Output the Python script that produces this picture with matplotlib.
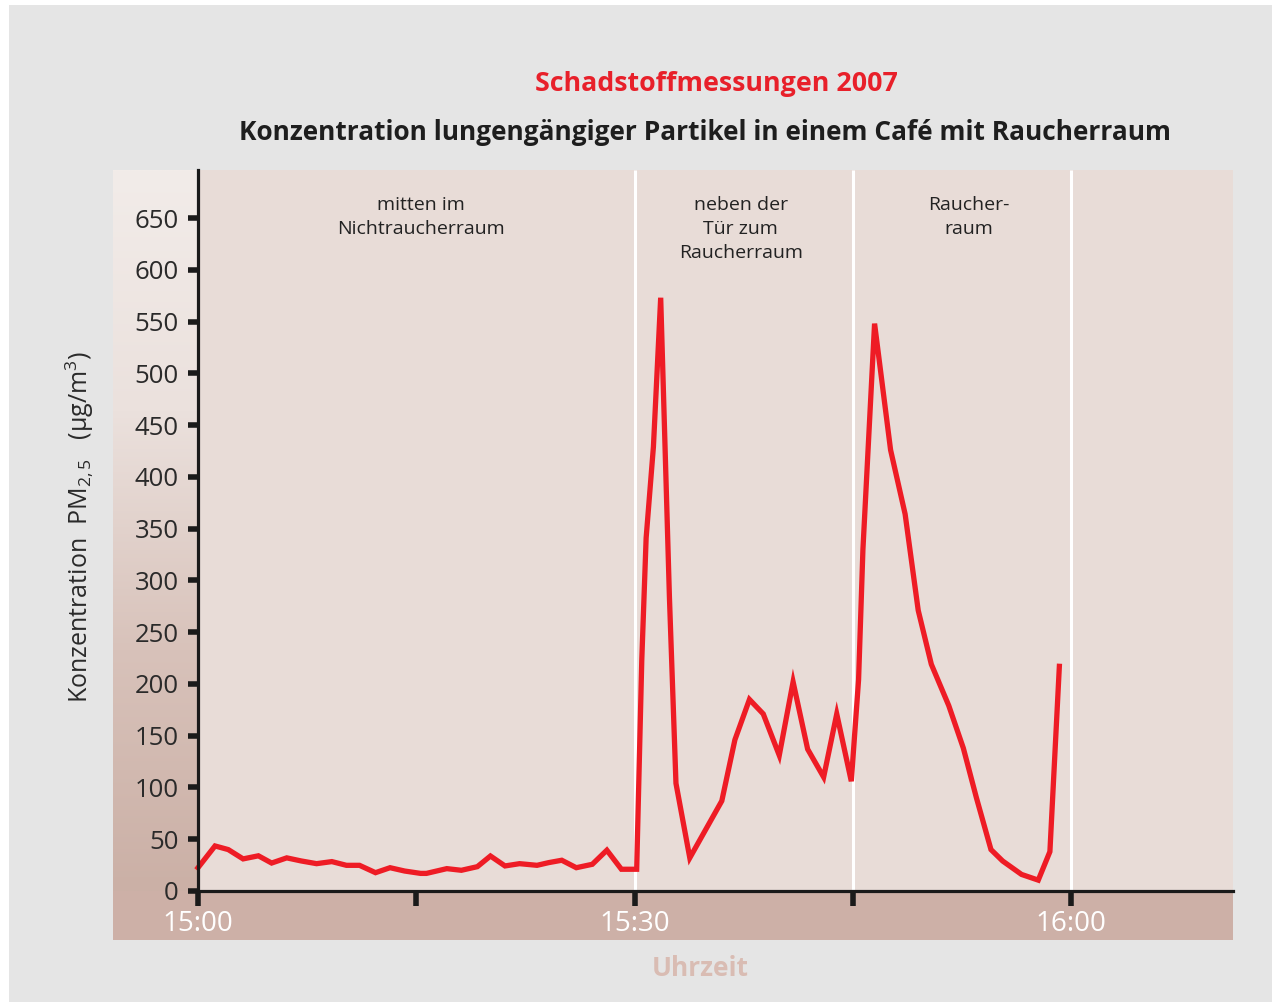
import numpy as np
import matplotlib
matplotlib.use("Agg")
import matplotlib.pyplot as plt
from matplotlib.colors import LinearSegmentedColormap
from matplotlib.patches import Rectangle

# ---------------- data ----------------
minutes = [0, 1.17, 2.08, 3.1, 4.15, 5.06, 6.1, 7.1, 8.15, 9.2, 10.2, 11.1, 12.2,
           13.2, 14.2, 15.3, 15.7, 17.1, 18.1, 19.2, 20.1, 21.1, 22.1, 23.3, 24.1,
           25.0, 26.0, 27.1, 28.1, 29.1, 30.15, 30.5, 30.8, 31.3, 31.8, 32.4, 32.85,
           33.8, 36.0, 36.9, 37.9, 38.85, 39.95, 40.9, 41.9, 43.0, 43.9, 44.9, 45.4,
           45.7, 46.5, 47.6, 48.6, 49.5, 50.4, 51.6, 52.6, 53.5, 54.5, 55.3, 56.6,
           57.75, 58.55, 59.2]
pm25 = [22.5, 43.5, 40, 31, 34, 27, 32, 29, 26.4, 28.4, 24.8, 24.8, 17.7, 22.5,
        19.3, 17, 17, 21.6, 20, 23.5, 33.8, 24.2, 26.4, 24.8, 27.4, 29.7, 22.5, 25.8,
        39.4, 21, 21, 223, 341, 429, 573, 284, 104, 32, 87, 146, 185, 171, 131, 202,
        137, 110, 171, 106, 204, 330, 548, 426, 364, 271, 219, 179, 138, 90, 40, 29,
        16, 10.5, 38, 217]

xtick_minutes = [0, 30, 60]
xtick_labels = ["15:00", "15:30", "16:00"]
xminor_minutes = [15, 45]
yticks = list(range(0, 651, 50))
section_bounds = [30, 45, 60]
section_labels = ["mitten im\nNichtraucherraum", "neben der\nTür zum\nRaucherraum", "Raucher-\nraum"]
section_centers = [15.3, 37.3, 53.0]

title = "Schadstoffmessungen 2007"
subtitle = "Konzentration lungengängiger Partikel in einem Café mit Raucherraum"
ylabel = r"Konzentration  PM$_{\mathrm{2,5}}$   (µg/m$^{\mathrm{3}}$)"
xlabel = "Uhrzeit"

# ---------------- style ----------------
FONT = "Open Sans"
plt.rcParams["font.family"] = [FONT, "DejaVu Sans"]
plt.rcParams["mathtext.fontset"] = "custom"
plt.rcParams["mathtext.rm"] = FONT
plt.rcParams["mathtext.it"] = FONT + ":italic"
plt.rcParams["mathtext.bf"] = FONT + ":bold"

W, H = 1272, 1002
fig = plt.figure(figsize=(W / 100, H / 100), dpi=100)
fig.patch.set_facecolor("white")
# gray backdrop
fig.patches.append(Rectangle((9 / W, 0), 1 - 9 / W, 1 - 5 / H, transform=fig.transFigure,
                             facecolor="#e5e5e5", edgecolor="none", zorder=-10))

ax_l, ax_r, ax_t, ax_b = 113, 1233, 170, 940
ax = fig.add_axes([ax_l / W, 1 - ax_b / H, (ax_r - ax_l) / W, (ax_b - ax_t) / H])

px_per_min = (1071 - 198) / 60.0
y0_px, y650_px = 891, 218
px_per_unit = (y0_px - y650_px) / 650.0
xmin = (ax_l - 198) / px_per_min
xmax = (ax_r - 198) / px_per_min
ymax = (y0_px - ax_t) / px_per_unit
ymin = (y0_px - ax_b) / px_per_unit
ax.set_xlim(xmin, xmax)
ax.set_ylim(ymin, ymax)

ax.set_facecolor("#e8dcd7")
# left gradient strip
cmap = LinearSegmentedColormap.from_list("strip", ["#cbb0a6", "#d8c2ba", "#ebe1dd", "#f2ece9"])
grad = np.linspace(0, 1, 256).reshape(-1, 1)
ax.imshow(grad, extent=[xmin, 0, 0, ymax], origin="lower", cmap=cmap, aspect="auto", zorder=0)
# bottom band
ax.add_patch(Rectangle((xmin, ymin), xmax - xmin, -ymin, facecolor="#cdb0a7", edgecolor="none", zorder=0))

# section separators
for b in section_bounds:
    ax.plot([b, b], [0, ymax], color="white", lw=2.2, zorder=1, solid_capstyle="butt")

# data line
ax.plot(minutes, pm25, color="#ee1c25", lw=3.8, zorder=3, solid_joinstyle="miter")

# section labels
for c, lab in zip(section_centers, section_labels):
    ax.text(c, 671, lab, ha="center", va="top", fontsize=14, color="#222222",
            linespacing=1.42, zorder=4)

# spines
for s in ["top", "right"]:
    ax.spines[s].set_visible(False)
ax.spines["left"].set_position(("data", 0))
ax.spines["bottom"].set_position(("data", 0))
ax.spines["left"].set_bounds(0, ymax)
ax.spines["bottom"].set_bounds(0, xmax)
for s in ["left", "bottom"]:
    ax.spines[s].set_linewidth(2.3)
    ax.spines[s].set_color("#1a1a1a")
    ax.spines[s].set_zorder(5)

ax.set_yticks(yticks)
ax.set_yticklabels([str(v) for v in yticks])
ax.tick_params(axis="y", direction="out", length=7, width=4, color="#1a1a1a",
               labelsize=18.5, labelcolor="#2a2a2a", pad=7)
ax.set_xticks(xtick_minutes)
ax.set_xticklabels(xtick_labels)
ax.set_xticks(xminor_minutes, minor=True)
ax.tick_params(axis="x", which="both", direction="out", length=11, width=4, color="#1a1a1a",
               labelsize=20, labelcolor="white", pad=2.5)

# titles
fig.text(716 / W, 1 - 84 / H, title, ha="center", va="center", fontsize=19.3,
         fontweight="bold", color="#e8202a")
fig.text(705 / W, 1 - 132 / H, subtitle, ha="center", va="center", fontsize=18.9,
         fontweight="bold", color="#1e1e1e")
fig.text(80 / W, 1 - 527 / H, ylabel, ha="center", va="center", rotation=90,
         fontsize=18, color="#2a2a2a")
fig.text(700 / W, 1 - 968 / H, xlabel, ha="center", va="center", fontsize=19,
         fontweight="bold", color="#d9bcb3")

fig.savefig("out.png", dpi=100, facecolor=fig.get_facecolor())
